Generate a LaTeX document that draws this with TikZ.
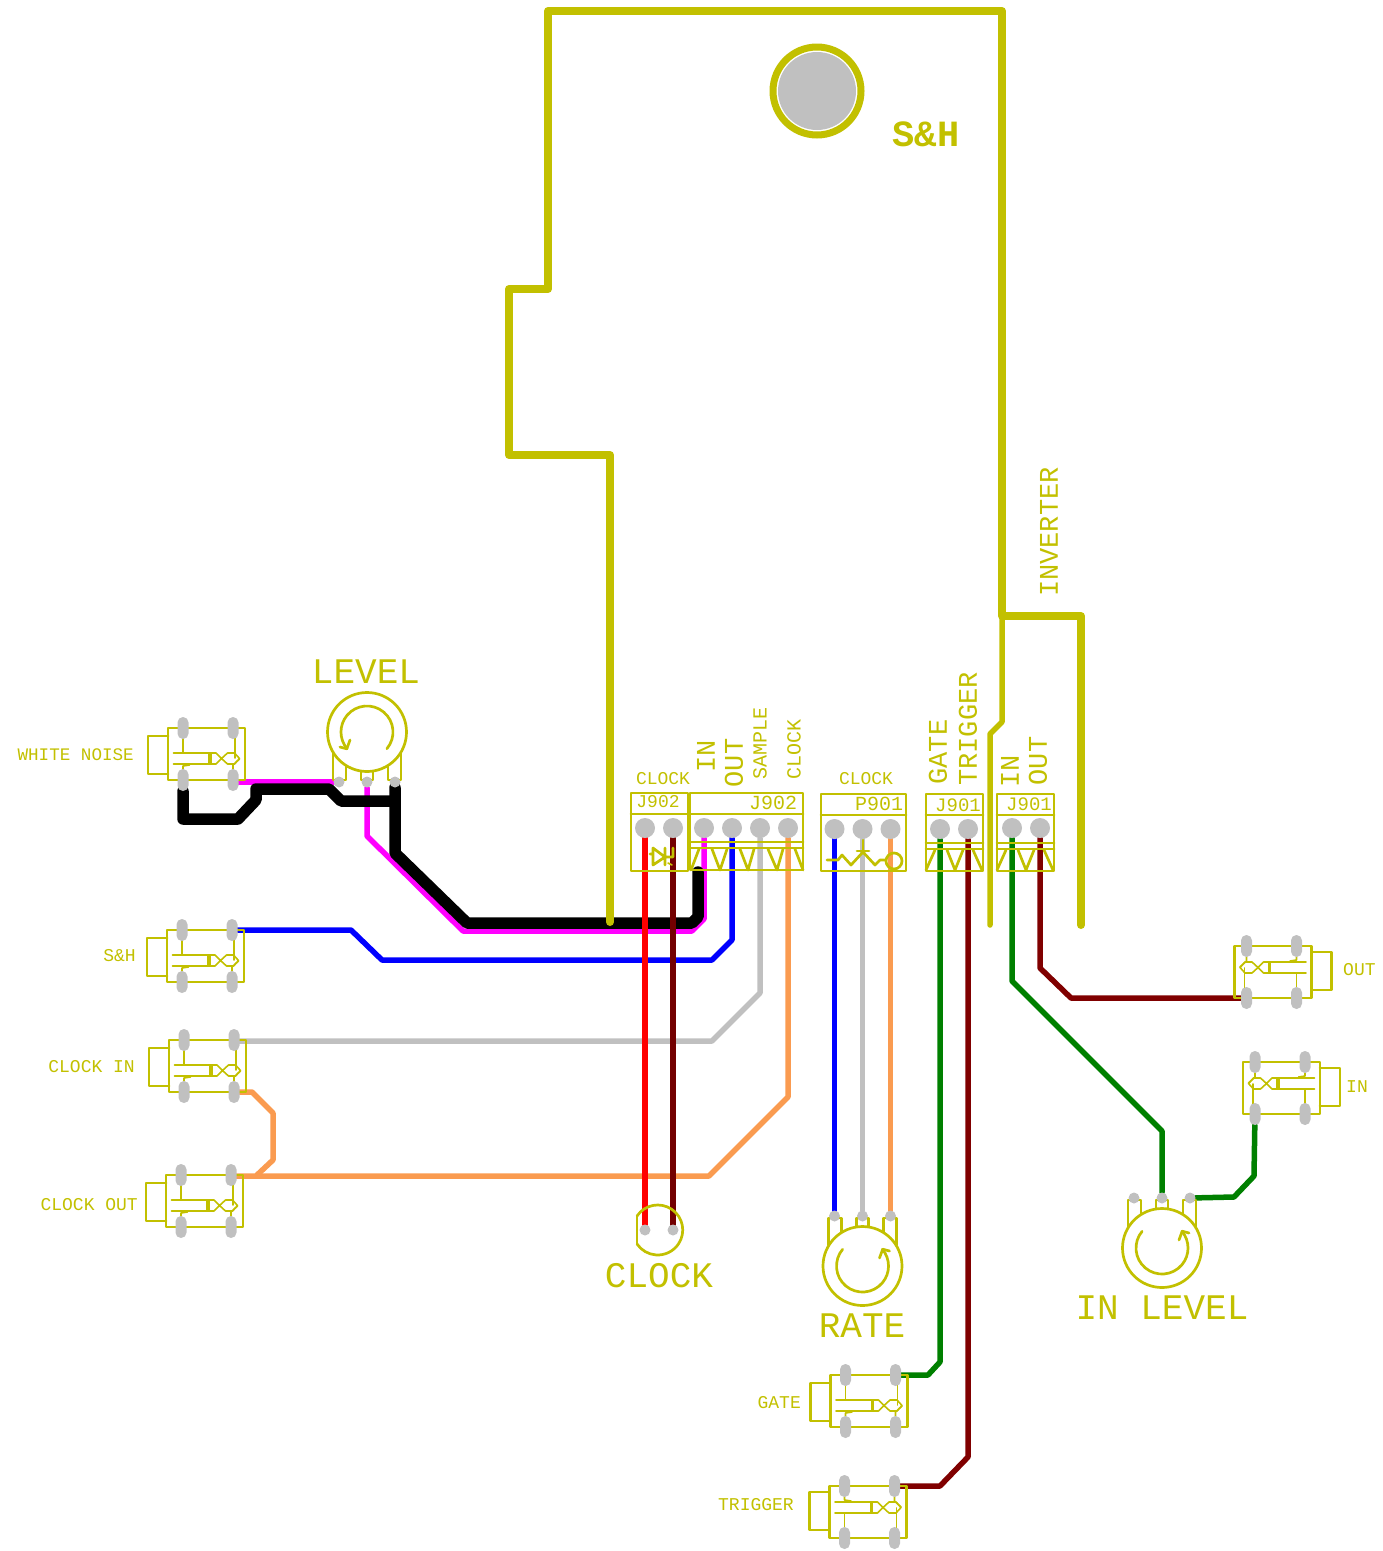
\documentclass[tikz,border=0pt]{standalone}
\usepackage{fontspec}
\setmainfont{Liberation Mono}
\pgfdeclarelayer{wires}
\pgfdeclarelayer{pads}
\pgfsetlayers{wires,main,pads}
\definecolor{silk}{RGB}{194,192,0}
\definecolor{padgray}{RGB}{192,192,192}
\definecolor{wmag}{RGB}{255,0,255}
\definecolor{wblue}{RGB}{0,0,255}
\definecolor{wgreen}{RGB}{0,128,0}
\definecolor{wmar}{RGB}{128,0,0}
\definecolor{wdmar}{RGB}{115,0,0}
\definecolor{worange}{RGB}{250,155,80}
\newcommand\vf[1]{\fontsize{#1pt}{#1pt}\selectfont}
\tikzset{
  silkline/.style={draw=silk,line width=2.7pt,line join=round,line cap=round},
  silkthin/.style={draw=silk,line width=1.6pt,line join=round,line cap=round},
  board/.style={draw=silk,line width=8pt,line join=round,line cap=round},
  boardthin/.style={draw=silk,line width=5.5pt,line join=round,line cap=round},
  wire/.style={line width=5.5pt,line join=round,line cap=round},
  fatwire/.style={draw=black,line width=11.5pt,line join=round,line cap=round},
  lbl/.style={text=silk,inner sep=0pt},
  padv/.style={fill=padgray,draw=none,rounded corners=5.4pt,minimum width=11pt,minimum height=22pt,inner sep=0pt},
  padr/.style={circle,fill=padgray,draw=none,minimum size=11pt,inner sep=0pt},
  padb/.style={circle,fill=padgray,draw=none,minimum size=20pt,inner sep=0pt},
}
% jack: name, cx, cy, xscale, yscale
\newcommand\jack[5]{%
\begin{scope}[shift={(#2,#3)},xscale=#4,yscale=#5]
  \draw[silkline] (-38.5,-26) rectangle (38.5,26);
  \draw[silkline] (-38.5,-18) -- (-58.5,-18) -- (-58.5,20) -- (-38.5,20);
  \draw[silkthin] (-23.5,-16) -- (-23.5,-1);
  \draw[silkthin] (-33,-1) -- (3.5,-1) (-33,10) -- (3.5,10);
  \draw[draw=silk,line width=3.4pt] (3.5,-1.5) -- (3.5,10.5);
  \draw[silkthin] (3.5,-1) -- (9.5,-1) -- (15,4.5) -- (21,-1) -- (28,-1) -- (33,4.5) -- (28,10) -- (21,10) -- (15,4.5) -- (9.5,10) -- (3.5,10);
  \draw[silkthin] (28.5,-16) -- (28.5,4);
  \draw[silkthin] (26.5,15) -- (26.5,11) -- (33,5);
  \draw[silkthin] (-23.5,15) -- (-23.5,12) -- (-17,11);
  \begin{pgfonlayer}{pads}
    \node[padv] (#1-a) at (-23.5,-26) {};
    \node[padv] (#1-b) at (26.5,-26) {};
    \node[padv] (#1-c) at (-23.5,26) {};
    \node[padv] (#1-d) at (26.5,26) {};
  \end{pgfonlayer}
\end{scope}}
% pot: name, cx, cy, rotation
\newcommand\pot[4]{%
\begin{scope}[shift={(#2,#3)},rotate=#4]
  \draw[silkline] (0,0) circle[radius=39.5pt];
  \draw[silkline] (19.9,16.7) arc[start angle=-40,end angle=220,radius=26pt];
  \draw[silkline] (-27,15) -- (-20.2,16.8) -- (-17,8);
  \draw[silkline] (-34,21) -- (-34,48) -- (-21,48) -- (-21,34);
  \draw[silkline] (-6,39.5) -- (-6,48) -- (6,48) -- (6,39.5);
  \draw[silkline] (34,21) -- (34,48) -- (21,48) -- (21,34);
  \begin{pgfonlayer}{pads}
    \node[padr] (#1-a) at (-28,50) {};
    \node[padr] (#1-b) at (0,50) {};
    \node[padr] (#1-c) at (28,50) {};
  \end{pgfonlayer}
\end{scope}}
\begin{document}
\begin{tikzpicture}[x=1pt,y=-1pt]
\useasboundingbox (0,0) rectangle (1383,1551);
% board outline
\draw[board] (610,922) -- (610,455) -- (509,455) -- (509,289) -- (548,289) -- (548,11) -- (1002,11) -- (1002,616) -- (1081,616) -- (1081,925);
\draw[boardthin] (1002,616) -- (1002,722) -- (990,734) -- (990,925);
\draw[draw=silk,line width=7pt] (817,91) circle[radius=44pt];
\begin{pgfonlayer}{pads}
  \node[circle,fill=padgray,minimum size=78pt,inner sep=0pt] (hole) at (817,91) {};
\end{pgfonlayer}
\node[lbl,font=\vf{37}\bfseries] (tsh) at (926,134) {S\&H};
% jacks
\jack{wn}{206.5}{754}{1}{1}
\jack{sh}{205.5}{956}{1}{1}
\jack{ci}{207.5}{1066}{1}{1}
\jack{co}{204.5}{1201}{1}{1}
\jack{ga}{869}{1401}{1}{1}
\jack{tr}{868}{1512}{1}{-1}
\jack{ou}{1273}{972}{-1}{-1}
\jack{in}{1281.5}{1088}{-1}{-1}
% pots
\pot{pl}{367}{732}{0}
\pot{pr}{862.5}{1266}{180}
\pot{pi}{1162}{1248}{180}
% LED
\draw[silkline] (637,1216) arc[start angle=146,end angle=-146,radius=25pt];
\draw[silkline] (637,1216) -- (637,1244);
\begin{pgfonlayer}{pads}
  \node[padr] (la) at (645,1230) {};
  \node[padr] (lb) at (673,1230) {};
\end{pgfonlayer}
% terminal blocks
\draw[silkline] (631,793) rectangle (688,871) (631,814) -- (688,814);
\draw[silkline] (690,793) rectangle (803,870) (690,814) -- (803,814);
\draw[silkline] (690,842) -- (803,842) (690,848) -- (803,848);
\draw[silkline] (699,849) -- (691,870) (712,849) -- (720,870) -- (727,849) (740,849) -- (748,870) -- (754,849) (768,849) -- (777,870) -- (783,849) (795,849) -- (803,870);
% diode
\draw[silkline] (650,854) -- (653,854) (653,848) -- (653,865) -- (665,857) -- (653,848) (665,848) -- (665,865) (673,848) -- (673,857) -- (665,857);
\draw[silkthin] (668,863) -- (672,865);
% P901
\draw[silkline] (821,794) rectangle (906,871) (821,815) -- (906,815);
\draw[silkline] (827,860) -- (838,860) -- (842,855) -- (851,865) -- (863,852) -- (875,865) -- (880,860) -- (886,860);
\draw[silkline] (863,840) -- (863,851) (857,851) -- (869,851);
\draw[silkline] (894,861) circle[radius=8pt];
% J901 blocks
\draw[silkline] (926,794) rectangle (983,871) (926,815) -- (983,815);
\draw[silkline] (926,843) -- (983,843) (926,849) -- (983,849);
\draw[silkline] (935,850) -- (926,870) (947,850) -- (955,870) -- (963,850) (973,850) -- (982,870);
\draw[silkline] (997,794) rectangle (1054,871) (997,815) -- (1054,815);
\draw[silkline] (997,843) -- (1054,843) (997,849) -- (1054,849);
\draw[silkline] (1006,850) -- (997,870) (1018,850) -- (1026,870) -- (1034,850) (1044,850) -- (1053,870);
\begin{pgfonlayer}{pads}
  \node[padb] (j1) at (645,828) {};
  \node[padb] (j2) at (673,828) {};
  \node[padb] (k1) at (704,828) {};
  \node[padb] (k2) at (732,828) {};
  \node[padb] (k3) at (760,828) {};
  \node[padb] (k4) at (788,828) {};
  \node[padb] (p1) at (834.5,829) {};
  \node[padb] (p2) at (862.5,829) {};
  \node[padb] (p3) at (890.5,829) {};
  \node[padb] (g1) at (940,829) {};
  \node[padb] (g2) at (968,829) {};
  \node[padb] (h1) at (1012,828) {};
  \node[padb] (h2) at (1040,828) {};
\end{pgfonlayer}
% labels
\node[lbl,font=\vf{36}] (t1) at (366,672) {LEVEL};
\node[lbl,font=\vf{17.6},anchor=east] (t2) at (134,755) {WHITE NOISE};
\node[lbl,font=\vf{18},anchor=east] (t3) at (136,956) {S\&H};
\node[lbl,font=\vf{18},anchor=east] (t4) at (135,1067) {CLOCK IN};
\node[lbl,font=\vf{18},anchor=east] (t5) at (138,1205) {CLOCK OUT};
\node[lbl,font=\vf{18},anchor=east] (t6) at (801,1403) {GATE};
\node[lbl,font=\vf{18},anchor=east] (t7) at (794,1505) {TRIGGER};
\node[lbl,font=\vf{18},anchor=west] (t8) at (1343,970) {OUT};
\node[lbl,font=\vf{18},anchor=west] (t9) at (1346,1087) {IN};
\node[lbl,font=\vf{18}] (t10) at (663,779) {CLOCK};
\node[lbl,font=\vf{18}] (t11) at (866,779) {CLOCK};
\node[lbl,font=\vf{18}] (t12) at (658,802) {J902};
\node[lbl,font=\vf{20}] (t13) at (773,803) {J902};
\node[lbl,font=\vf{20}] (t14) at (879,804) {P901};
\node[lbl,font=\vf{19}] (t15) at (958,805) {J901};
\node[lbl,font=\vf{19}] (t16) at (1029,804) {J901};
\node[lbl,font=\vf{27},rotate=90] (t17) at (706,756) {IN};
\node[lbl,font=\vf{27},rotate=90] (t18) at (734,763) {OUT};
\node[lbl,font=\vf{20},rotate=90] (t19) at (760,743) {SAMPLE};
\node[lbl,font=\vf{20},rotate=90] (t20) at (794,749) {CLOCK};
\node[lbl,font=\vf{27},rotate=90] (t21) at (938,752) {GATE};
\node[lbl,font=\vf{27},rotate=90] (t22) at (968,729) {TRIGGER};
\node[lbl,font=\vf{27},rotate=90] (t23) at (1010,771) {IN};
\node[lbl,font=\vf{27},rotate=90] (t24) at (1038,761) {OUT};
\node[lbl,font=\vf{27},rotate=90] (t25) at (1049,532) {INVERTER};
\node[lbl,font=\vf{36}] (t26) at (659,1276) {CLOCK};
\node[lbl,font=\vf{36}] (t27) at (862,1326) {RATE};
\node[lbl,font=\vf{36}] (t28) at (1162,1308) {IN LEVEL};
% wires
\begin{pgfonlayer}{wires}
  \draw[wire,draw=wmag] (wn-d |- pl-a) -- (pl-a);
  \draw[wire,draw=wmag] (pl-b) -- (367,836) -- (463,931) -- (692,931) -- (704,919) -- (k1);
  \draw[fatwire] (wn-c) -- (183,819) -- (238,819) -- (256,800) -- (256,789) -- (329,789) -- (341,801) -- (395,801);
  \draw[fatwire] (pl-c) -- (395,853) -- (467,923) -- (692,923) -- (698,917) -- (698,872);
  \draw[wire,draw=wblue] (sh-b) -- (351,930) -- (382,960) -- (712,960) -- (732,940) -- (k2);
  \draw[wire,draw=padgray] (ci-b |- 0,1041) -- (712,1041) -- (760,993) -- (k3);
  \draw[wire,draw=worange] (k4) -- (788,1097) -- (709,1176) -- (co-b |- 0,1176);
  \draw[wire,draw=worange] (ci-d) -- (252,1092) -- (273,1113) -- (273,1160) -- (257,1175);
  \draw[wire,draw=wdmar] (j2) -- (lb);
  \draw[wire,draw=red] (j1) -- (la);
  \draw[wire,draw=wblue] (p1) -- (pr-c);
  \draw[wire,draw=padgray] (p2) -- (pr-b);
  \draw[wire,draw=worange] (p3) -- (pr-a);
  \draw[wire,draw=wgreen] (g1) -- (940,1362) -- (928,1375) -- (ga-b);
  \draw[wire,draw=wmar] (g2) -- (968,1457) -- (940,1486) -- (tr-d);
  \draw[wire,draw=wgreen] (h1) -- (1012,981) -- (1162,1131) -- (pi-b);
  \draw[wire,draw=wmar] (h2) -- (1040,968) -- (1071,998) -- (ou-b);
  \draw[wire,draw=wgreen] (pi-a) -- (1234,1197) -- (1254,1176) -- (in-b);
\end{pgfonlayer}
\end{tikzpicture}
\end{document}
